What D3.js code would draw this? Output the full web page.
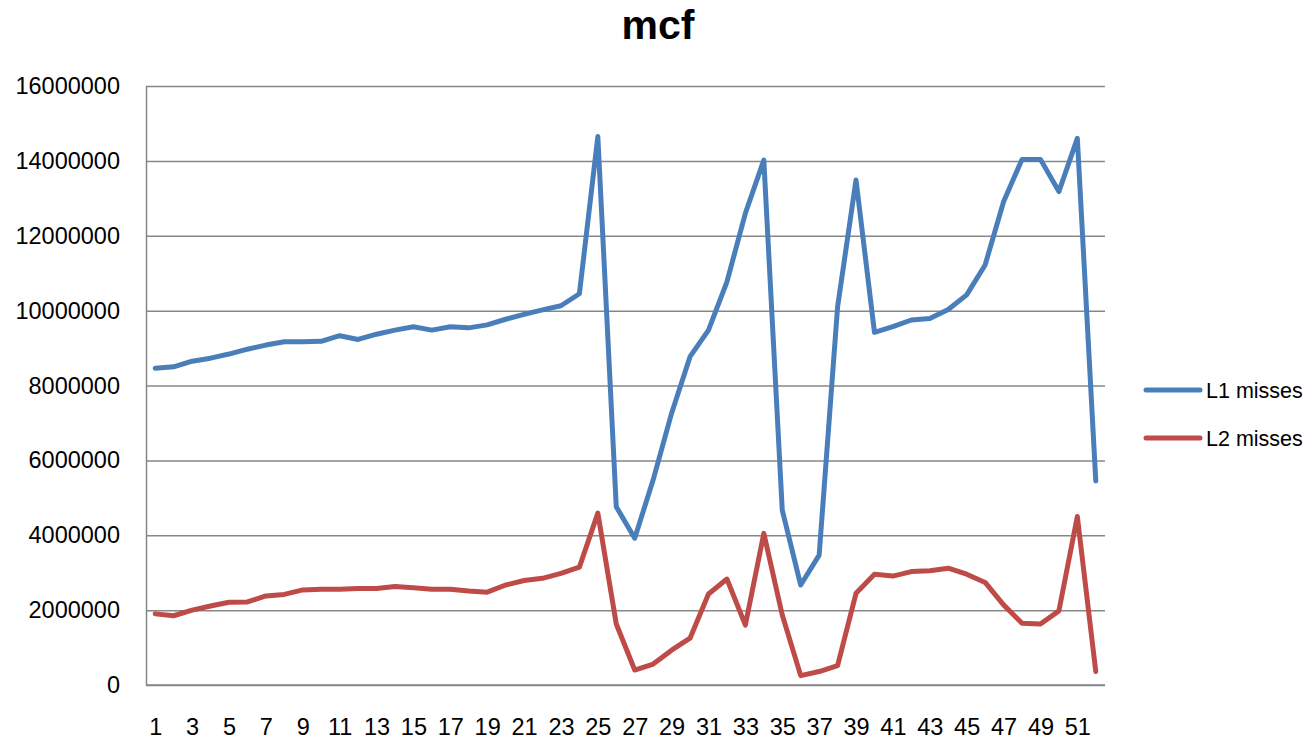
<!DOCTYPE html>
<html>
<head>
<meta charset="utf-8">
<script src="https://cdn.jsdelivr.net/npm/d3@7"></script>
<style>
  html, body { margin: 0; padding: 0; background: #fff; }
  svg { display: block; }
  text { font-family: "Liberation Sans", Arial, sans-serif; fill: #000; }
</style>
</head>
<body>
<svg id="chart" width="1314" height="742"></svg>
<script>
const title = "mcf";
const categories = d3.range(1, 53);
const seriesNames = ["L1 misses", "L2 misses"];
const l1Misses = [
  8460000, 8500000, 8650000, 8730000, 8840000, 8970000, 9080000, 9170000, 9170000, 9180000,
  9330000, 9230000, 9370000, 9480000, 9570000, 9480000, 9570000, 9540000, 9620000, 9770000,
  9900000, 10020000, 10130000, 10450000, 14650000, 4760000, 3920000, 5480000, 7260000, 8770000,
  9480000, 10770000, 12600000, 14020000, 4670000, 2670000, 3470000, 10100000, 13490000, 9420000,
  9570000, 9750000, 9790000, 10030000, 10420000, 11220000, 12910000, 14040000, 14040000, 13180000,
  14600000, 5450000
];
const l2Misses = [
  1900000, 1850000, 2000000, 2110000, 2210000, 2220000, 2380000, 2420000, 2540000, 2560000,
  2560000, 2580000, 2580000, 2630000, 2600000, 2560000, 2560000, 2510000, 2480000, 2670000,
  2790000, 2850000, 2980000, 3150000, 4590000, 1630000, 400000, 560000, 930000, 1250000,
  2430000, 2830000, 1600000, 4050000, 1870000, 250000, 360000, 520000, 2450000, 2960000,
  2910000, 3030000, 3050000, 3120000, 2960000, 2740000, 2140000, 1650000, 1630000, 1980000,
  4500000, 360000
];
const yTicks = [0, 2000000, 4000000, 6000000, 8000000, 10000000, 12000000, 14000000, 16000000];
const xTickLabels = categories.filter(c => c % 2 === 1);
const colors = ["#4A7EBB", "#BE4B48"];

const svg = d3.select("#chart");
const plotLeft = 146, plotRight = 1105, plotTop = 86, plotBottom = 685;

const x = d3.scalePoint().domain(categories).range([plotLeft, plotRight]).padding(0.5);
const y = d3.scaleLinear().domain([0, 16000000]).range([plotBottom, plotTop]);

// gridlines
const grid = svg.append("g").attr("transform", `translate(${plotLeft},0)`)
  .call(d3.axisLeft(y).tickValues(yTicks).tickSize(-(plotRight - plotLeft)).tickFormat(""));
grid.select(".domain").remove();
grid.selectAll("line").attr("stroke", "#878787").attr("stroke-width", 1.5);

// y axis labels
const yAxis = svg.append("g").attr("transform", `translate(${plotLeft},0)`)
  .call(d3.axisLeft(y).tickValues(yTicks).tickSize(0).tickPadding(26).tickFormat(d3.format("d")));
yAxis.select(".domain").attr("stroke", "#878787").attr("stroke-width", 1.5);
yAxis.selectAll("text").style("font-size", "23.5px").style("font-family", "Liberation Sans, Arial, sans-serif").attr("fill", "#000");

// x axis
const xAxis = svg.append("g").attr("transform", `translate(0,${plotBottom})`)
  .call(d3.axisBottom(x).tickValues(xTickLabels).tickSize(0).tickPadding(33));
xAxis.select(".domain").attr("stroke", "#878787").attr("stroke-width", 1.5)
  .attr("d", `M${plotLeft},0H${plotRight}`);
xAxis.selectAll("text").style("font-size", "23.5px").style("font-family", "Liberation Sans, Arial, sans-serif").attr("fill", "#000");

// lines
const line = d3.line().x((d, i) => x(categories[i])).y(d => y(d));
[l1Misses, l2Misses].forEach((s, k) => {
  svg.append("path").datum(s)
    .attr("d", line)
    .attr("fill", "none")
    .attr("stroke", colors[k])
    .attr("stroke-width", 5)
    .attr("stroke-linejoin", "round")
    .attr("stroke-linecap", "round");
});

// title
svg.append("text").attr("x", 658).attr("y", 39).attr("text-anchor", "middle")
  .style("font-size", "41px").style("font-weight", "bold").text(title);

// legend
const legend = svg.append("g");
seriesNames.forEach((name, k) => {
  const ly = 390 + k * 48;
  legend.append("line").attr("x1", 1146).attr("x2", 1200).attr("y1", ly).attr("y2", ly)
    .attr("stroke", colors[k]).attr("stroke-width", 5).attr("stroke-linecap", "round");
  legend.append("text").attr("x", 1206).attr("y", ly).attr("dy", "0.36em")
    .style("font-size", "21.5px").text(name);
});
</script>
</body>
</html>
